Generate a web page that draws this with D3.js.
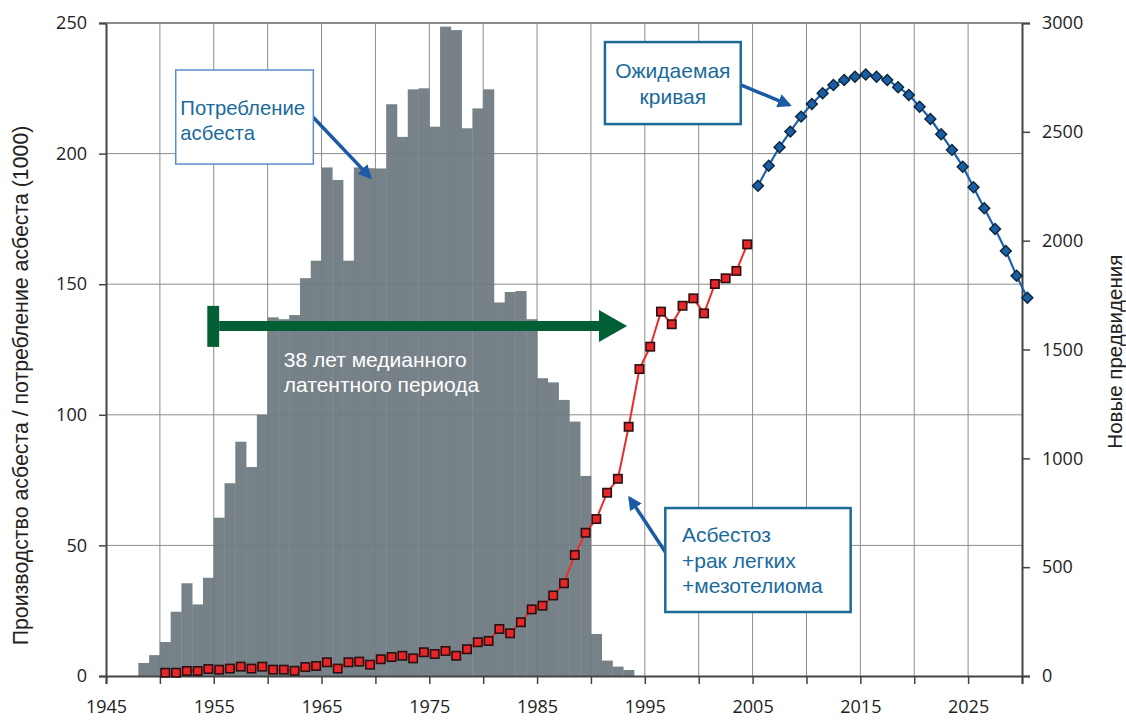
<!DOCTYPE html>
<html>
<head>
<meta charset="utf-8">
<script src="https://cdn.jsdelivr.net/npm/d3@7"></script>
<style>
  body { margin: 0; background: #fff; }
  svg { display: block; }
  .tick text { font-family: "Open Sans", sans-serif; font-size: 18px; fill: #222; }
  .note { font-family: "Liberation Sans", Arial, sans-serif; font-size: 21px; fill: #1a6a9c; }
</style>
</head>
<body>
<div id="chart"></div>
<script>
// asbestos consumption (thousands), one bar per year
const barYears = d3.range(1948, 1994);
const consumption = [5, 8, 13, 24.6, 35.5, 27.4, 37.6, 60.6, 73.8, 89.7,
    80, 100, 137.3, 136.6, 138.2, 152.3, 159, 194.7, 189.9, 159,
    194.7, 194.4, 194.3, 218.9, 206.4, 224.6, 225, 210.3, 248.6, 247.3,
    209.7, 217.3, 224.6, 143, 147, 147.4, 136.6, 114, 112.4, 105.7,
    97.4, 76.6, 16.1, 5.9, 3.6, 2.3];

// observed cases (right axis)
const caseYears = d3.range(1950, 2005);
const cases = [15, 15, 23, 23, 32, 29, 34, 43, 34, 43,
    29, 29, 24, 41, 46, 63, 34, 63, 66, 52,
    77, 87, 93, 81, 109, 101, 115, 93, 123, 155,
    161, 216, 196, 247, 306, 323, 370, 426, 556, 658,
    721, 842, 906, 1145, 1410, 1513, 1674, 1616, 1701, 1735,
    1666, 1801, 1827, 1861, 1983];

// expected curve (right axis)
const forecastYears = d3.range(2005, 2031);
const forecast = [2252, 2344, 2429, 2501, 2570, 2628, 2677, 2715, 2738, 2753,
    2763, 2753, 2738, 2705, 2669, 2615, 2559, 2489, 2417, 2340,
    2245, 2149, 2054, 1953, 1839, 1738];

const xTicks = d3.range(1945, 2031, 10);
const leftTicks = [0, 50, 100, 150, 200, 250];
const rightTicks = [0, 500, 1000, 1500, 2000, 2500, 3000];

const width = 1126;
const height = 720;
const margin = { top: 23, right: 104, bottom: 44, left: 106 };

const x = d3.scaleLinear().domain([1945, 2030]).range([margin.left, width - margin.right]);
const yL = d3.scaleLinear().domain([0, 250]).range([height - margin.bottom, margin.top]);
const yR = d3.scaleLinear().domain([0, 3000]).range([height - margin.bottom, margin.top]);

const svg = d3.select("#chart").append("svg")
    .attr("width", width)
    .attr("height", height);

const defs = svg.append("defs");
defs.append("marker")
    .attr("id", "head")
    .attr("viewBox", "0 0 10 10")
    .attr("refX", 8).attr("refY", 5)
    .attr("markerWidth", 4).attr("markerHeight", 4)
    .attr("markerUnits", "strokeWidth")
    .attr("orient", "auto")
    .append("path")
    .attr("d", "M0,0 L10,5 L0,10 z")
    .attr("fill", "#1c5aa5");

// grid
const grid = svg.append("g").attr("stroke", "#8c8c8c").attr("stroke-width", 1);
grid.selectAll(".vg")
    .data(d3.range(1950, 2030, 5))
    .enter().append("line")
    .attr("x1", d => x(d)).attr("x2", d => x(d))
    .attr("y1", yL(250)).attr("y2", yL(0));
grid.selectAll(".hg")
    .data(leftTicks.slice(1))
    .enter().append("line")
    .attr("x1", x(1945)).attr("x2", x(2030))
    .attr("y1", d => yL(d)).attr("y2", d => yL(d));

// bars
svg.append("g")
    .selectAll("rect")
    .data(barYears)
    .enter().append("rect")
    .attr("x", d => x(d))
    .attr("width", x(1946) - x(1945) + 0.3)
    .attr("y", (d, i) => yL(consumption[i]))
    .attr("height", (d, i) => yL(0) - yL(consumption[i]))
    .attr("fill", "#6e7a81")
    .attr("fill-opacity", 0.94);

// axes
svg.append("g")
    .attr("transform", `translate(0,${yL(0)})`)
    .call(d3.axisBottom(x).tickValues(d3.range(1945, 2031, 5)).tickSize(8).tickPadding(16)
        .tickFormat(d => xTicks.includes(d) ? d : ""))
    .call(g => g.selectAll(".tick line").attr("stroke", "#444").attr("stroke-width", 1.5))
    .call(g => g.select(".domain").attr("stroke", "#444").attr("stroke-width", 2));

svg.append("g")
    .attr("transform", `translate(${x(1945)},0)`)
    .call(d3.axisLeft(yL).tickValues(leftTicks).tickSize(7).tickPadding(12))
    .call(g => g.selectAll(".tick line").attr("stroke", "#444").attr("stroke-width", 1.5))
    .call(g => g.select(".domain").attr("stroke", "#444").attr("stroke-width", 2));

svg.append("g")
    .attr("transform", `translate(${x(2030)},0)`)
    .call(d3.axisRight(yR).tickValues(rightTicks).tickSize(8).tickPadding(12).tickFormat(d3.format("d")))
    .call(g => g.selectAll(".tick line").attr("stroke", "#444").attr("stroke-width", 1.5))
    .call(g => g.select(".domain").attr("stroke", "#444").attr("stroke-width", 2));

// top frame
svg.append("line")
    .attr("x1", x(1945)).attr("x2", x(2030))
    .attr("y1", yL(250)).attr("y2", yL(250))
    .attr("stroke", "#777").attr("stroke-width", 1.5);

// axis titles
svg.append("text")
    .attr("transform", `translate(28,${(yL(0) + yL(250)) / 2 + 36}) rotate(-90)`)
    .attr("text-anchor", "middle")
    .style("font-family", "Liberation Sans, Arial, sans-serif")
    .style("font-size", "21.3px")
    .attr("fill", "#222")
    .text("Производство асбеста / потребление асбеста (1000)");

svg.append("text")
    .attr("transform", `translate(1122,${yR(1490)}) rotate(-90)`)
    .attr("text-anchor", "middle")
    .style("font-family", "Liberation Sans, Arial, sans-serif")
    .style("font-size", "20.5px")
    .attr("fill", "#222")
    .text("Новые предвидения");

// green latency arrow
const arrowY = 134;
const ga = svg.append("g").attr("fill", "#005f35");
ga.append("rect")
    .attr("x", x(1954.4)).attr("width", x(1955.5) - x(1954.4))
    .attr("y", yL(141.7)).attr("height", yL(126) - yL(141.7));
ga.append("rect")
    .attr("x", x(1955.5)).attr("width", x(1990.9) - x(1955.5))
    .attr("y", yL(arrowY) - 5).attr("height", 10);
ga.append("path")
    .attr("d", `M${x(1990.75)},${yL(arrowY) - 16} L${x(1993.35)},${yL(arrowY)} L${x(1990.75)},${yL(arrowY) + 16} Z`);

svg.append("text")
    .attr("x", x(1961.5)).attr("y", yL(118.3))
    .style("font-family", "Liberation Sans, Arial, sans-serif")
    .style("font-size", "21px")
    .attr("fill", "#fff")
    .selectAll("tspan")
    .data(["38 лет медианного", "латентного периода"])
    .enter().append("tspan")
    .attr("x", x(1961.5))
    .attr("dy", (d, i) => i ? 25 : 0)
    .text(d => d);

// lines
const redLine = d3.line().x((d, i) => x(caseYears[i] + 0.5)).y(d => yR(d));
svg.append("path")
    .datum(cases)
    .attr("d", redLine)
    .attr("fill", "none")
    .attr("stroke", "#ec2b2b")
    .attr("stroke-width", 2);

svg.append("g")
    .selectAll("rect")
    .data(cases)
    .enter().append("rect")
    .attr("x", (d, i) => x(caseYears[i] + 0.5) - 4.2)
    .attr("y", d => yR(d) - 4.2)
    .attr("width", 8.4).attr("height", 8.4)
    .attr("fill", "#e8262a")
    .attr("stroke", "#2a1010")
    .attr("stroke-width", 1.6);

const blueLine = d3.line().x((d, i) => x(forecastYears[i] + 0.5)).y(d => yR(d)).curve(d3.curveMonotoneX);
svg.append("path")
    .datum(forecast)
    .attr("d", blueLine)
    .attr("fill", "none")
    .attr("stroke", "#1f5fae")
    .attr("stroke-width", 2.2);

svg.append("g")
    .selectAll("path")
    .data(forecast)
    .enter().append("path")
    .attr("d", d3.symbol().type(d3.symbolSquare).size(60))
    .attr("transform", (d, i) => `translate(${x(forecastYears[i] + 0.5)},${yR(d)}) rotate(45)`)
    .attr("fill", "#1a5ea6")
    .attr("stroke", "#0b2638")
    .attr("stroke-width", 1.4);

// annotation boxes
function noteBox(x0, x1, top, bottom, stroke, sw) {
    svg.append("rect")
        .attr("x", x(x0)).attr("y", yL(top))
        .attr("width", x(x1) - x(x0)).attr("height", yL(bottom) - yL(top))
        .attr("fill", "#fff")
        .attr("stroke", stroke)
        .attr("stroke-width", sw);
}
function noteArrow(a, b) {
    svg.append("line")
        .attr("x1", x(a[0])).attr("y1", yL(a[1]))
        .attr("x2", x(b[0])).attr("y2", yL(b[1]))
        .attr("stroke", "#1c5aa5")
        .attr("stroke-width", 3.5)
        .attr("marker-end", "url(#head)");
}
function noteText(px, py, lines, anchor, size) {
    svg.append("text")
        .attr("class", "note")
        .attr("text-anchor", anchor)
        .style("font-size", size + "px")
        .selectAll("tspan")
        .data(lines)
        .enter().append("tspan")
        .attr("x", x(px))
        .attr("y", (d, i) => yL(py) + i * 25.5)
        .text(d => d);
}

noteArrow([1964.2, 214], [1969.5, 191]);
noteBox(1951.47, 1964.24, 232, 196, "#5a8ccc", 1.5);
noteText(1951.9, 214.8, ["Потребление", "асбеста"], "start", 20.3);

noteArrow([2003.9, 226.3], [2008.4, 218.6]);
noteBox(1991.3, 2003.9, 242.7, 211.3, "#1e6a96", 2.5);
noteText(1997.6, 228.9, ["Ожидаемая", "кривая"], "middle", 21);

noteArrow([1996.9, 47.5], [1993.6, 68.1]);
noteBox(1996.9, 2014.1, 64.3, 24.5, "#1e6a96", 2.5);
noteText(1998.45, 51.3, ["Асбестоз", "+рак легких", "+мезотелиома"], "start", 21);
</script>
</body>
</html>
